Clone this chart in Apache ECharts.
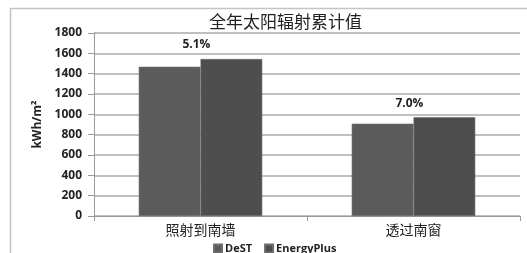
<!DOCTYPE html>
<html><head><meta charset="utf-8">
<script src="https://cdn.jsdelivr.net/npm/echarts@6/dist/echarts.min.js"></script>
<style>html,body{margin:0;padding:0;background:#fff}#c{width:527px;height:253px}</style>
</head><body><div id="c"></div>
<script>
const categories = ['照射到南墙', '透过南窗'];
const destValues = [1468, 908];
const energyPlusValues = [1544, 972];
const diffLabels = ['5.1%', '7.0%'];
const seriesNames = ['DeST', 'EnergyPlus'];
const titleText = '全年太阳辐射累计值';
const yAxisName = 'kWh/m²';

const chart = echarts.init(document.getElementById('c'));
const latin = '"Open Sans", Lato, sans-serif';
const cjk = '"Noto Sans CJK SC", sans-serif';
chart.setOption({
  animation: false,
  graphic: [{ type: 'rect', shape: { x: 10.5, y: 8.5, width: 560, height: 300 }, style: { fill: 'none', stroke: '#c4c4c4', lineWidth: 1.5 }, z: -1 }],
  title: { text: titleText, left: 204, top: 8, textStyle: { fontFamily: cjk, fontSize: 17, fontWeight: 'normal', color: '#222' } },
  grid: { left: 94, right: 7, top: 33, bottom: 37 },
  legend: { data: seriesNames, left: 208, top: 238, itemWidth: 8, itemHeight: 8, itemGap: 12, icon: 'rect',
    textStyle: { fontFamily: latin, fontWeight: 'bold', fontSize: 11, color: '#222', padding: [0, 0, 0, -2] } },
  xAxis: { type: 'category', data: categories,
    axisLine: { lineStyle: { color: '#999', width: 1 } },
    axisTick: { show: true, length: 5, lineStyle: { color: '#999' } },
    axisLabel: { fontFamily: cjk, fontSize: 14, color: '#222', margin: 7 } },
  yAxis: { type: 'value', min: 0, max: 1800, interval: 200, name: yAxisName, nameLocation: 'middle', nameGap: 50,
    nameTextStyle: { fontFamily: latin, fontWeight: 'bold', fontSize: 12, color: '#222' },
    axisLine: { show: true, lineStyle: { color: '#999' } },
    axisTick: { show: true, length: 6, lineStyle: { color: '#999' } },
    splitLine: { lineStyle: { color: '#aaa', width: 1.5 } },
    axisLabel: { fontFamily: latin, fontWeight: 'bold', fontSize: 12, color: '#222', margin: 12, formatter: v => String(v) } },
  series: [
    { name: seriesNames[0], type: 'bar', data: destValues, barGap: '0%', barCategoryGap: '42%',
      itemStyle: { color: '#5b5b5b', borderColor: '#6e6e6e', borderWidth: 0.6 } },
    { name: seriesNames[1], type: 'bar', data: energyPlusValues,
      itemStyle: { color: '#4e4e4e', borderColor: '#6e6e6e', borderWidth: 0.6 },
      label: { show: true, position: 'top', distance: 8, offset: [-35, 0],
        formatter: p => diffLabels[p.dataIndex],
        fontFamily: latin, fontWeight: 'bold', fontSize: 12, color: '#222' } }
  ]
});
</script></body></html>
